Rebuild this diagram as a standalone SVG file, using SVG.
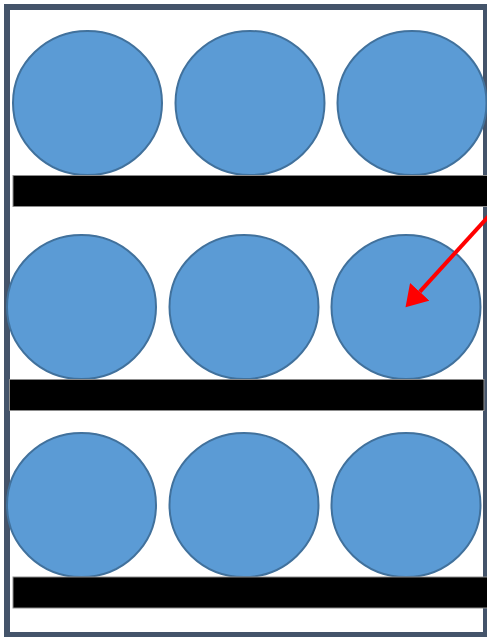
<svg xmlns="http://www.w3.org/2000/svg" width="487" height="637" viewBox="0 0 487 637">
<style>
.frame{fill:#ffffff;stroke:#44546a;stroke-width:6}
.ball{fill:#5b9bd5;stroke:#41719c;stroke-width:2}
.bar{fill:#000000;stroke:#8c8c8c;stroke-width:1}
.arrow{stroke:#ff0000;stroke-width:4;fill:none}
</style>
<defs>
<marker id="head" markerUnits="userSpaceOnUse" markerWidth="22" markerHeight="26" refX="0" refY="13" orient="auto" viewBox="0 0 22 26">
<path d="M0,0 L21,13 L0,26 z" fill="#ff0000"/>
</marker>
</defs>
<g id="frame"><rect class="frame" x="7" y="7" width="479" height="628"/></g>
<g id="row1">
<ellipse id="ball-1-1" class="ball" cx="87.5" cy="103" rx="74.5" ry="72"/>
<ellipse id="ball-1-2" class="ball" cx="250" cy="103" rx="74.5" ry="72"/>
<ellipse id="ball-1-3" class="ball" cx="412" cy="103" rx="74.5" ry="72"/>
</g>
<g id="shelf-1"><rect class="bar" x="13" y="175.5" width="480" height="31"/></g>
<g id="row2">
<ellipse id="ball-2-1" class="ball" cx="81.5" cy="307" rx="74.5" ry="72"/>
<ellipse id="ball-2-2" class="ball" cx="244" cy="307" rx="74.5" ry="72"/>
<ellipse id="ball-2-3" class="ball" cx="406" cy="307" rx="74.5" ry="72"/>
</g>
<g id="shelf-2"><rect class="bar" x="9.5" y="379.5" width="474.5" height="31"/></g>
<g id="row3">
<ellipse id="ball-3-1" class="ball" cx="81.5" cy="505" rx="74.5" ry="72"/>
<ellipse id="ball-3-2" class="ball" cx="244" cy="505" rx="74.5" ry="72"/>
<ellipse id="ball-3-3" class="ball" cx="406" cy="505" rx="74.5" ry="72"/>
</g>
<g id="shelf-3"><rect class="bar" x="13" y="577" width="480" height="31"/></g>
<g id="connectors">
<line class="arrow" x1="492" y1="212.5" x2="419.7" y2="291.8" marker-end="url(#head)"/>
</g>
</svg>
